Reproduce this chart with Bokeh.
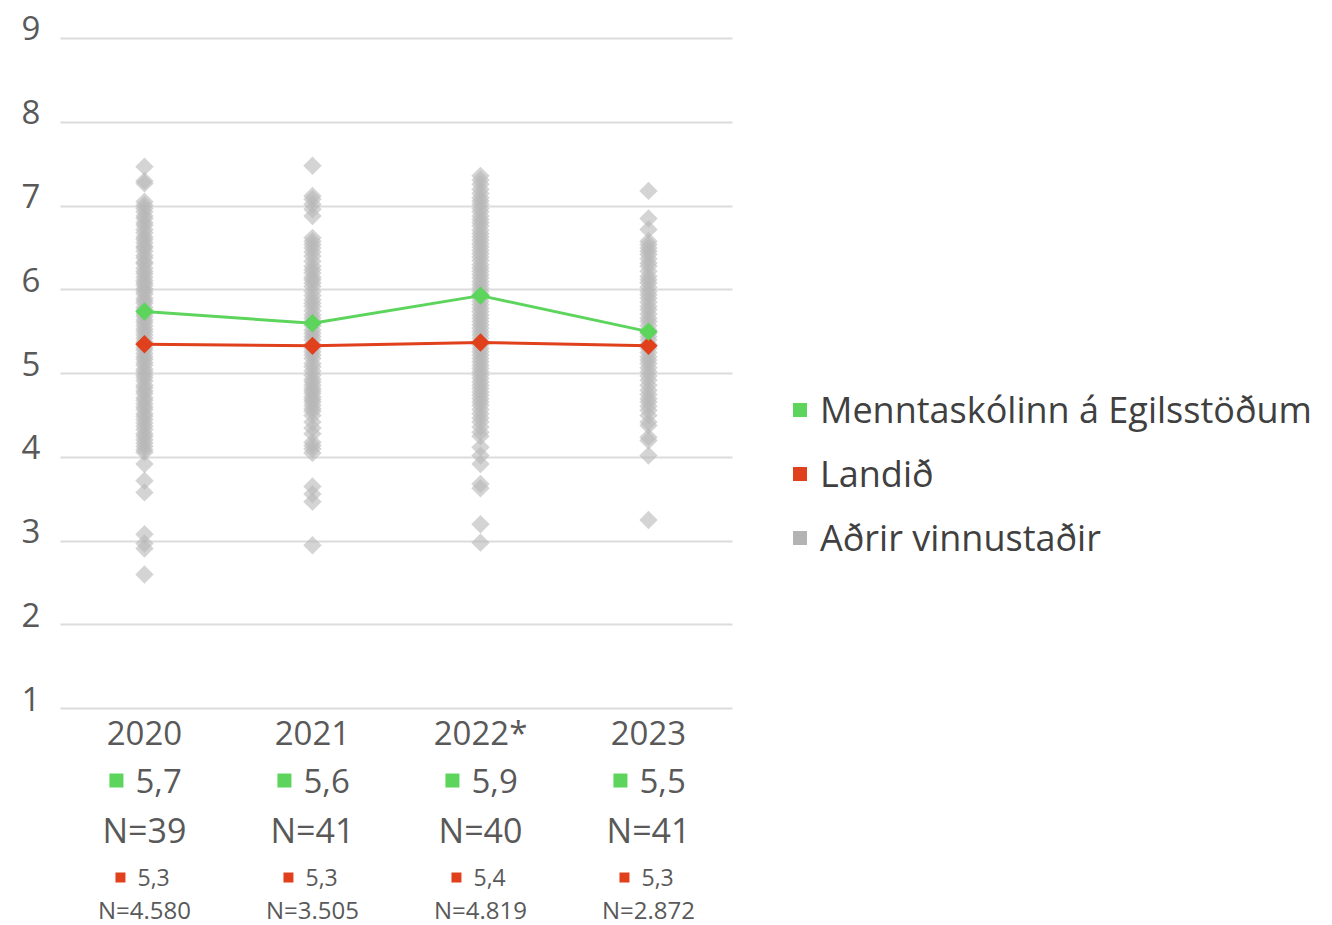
from math import pi
from bokeh.plotting import figure
from bokeh.models import ColumnDataSource, FixedTicker, Range1d, Legend, LegendItem
from bokeh.core.properties import value
from bokeh.transform import dodge
from bokeh.embed import file_html
from bokeh.resources import INLINE

# ---------------- data ----------------
years = ["2020", "2021", "2022*", "2023"]
school = [5.74, 5.60, 5.93, 5.50]
school_labels = ["5,7", "5,6", "5,9", "5,5"]
school_n = ["N=39", "N=41", "N=40", "N=41"]
country = [5.35, 5.33, 5.37, 5.33]
country_labels = ["5,3", "5,3", "5,4", "5,3"]
country_n = ["N=4.580", "N=3.505", "N=4.819", "N=2.872"]

others_2020 = [7.47, 7.30, 7.27, 7.05, 7.01, 6.97, 6.93, 6.88, 6.85, 6.80, 6.77, 6.72,
               6.68, 6.63, 6.60, 6.56, 6.52, 6.50, 6.46, 6.41, 6.38, 6.33, 6.31, 6.26,
               6.22, 6.19, 6.15, 6.11, 6.08, 6.05, 6.01, 5.98, 5.95, 5.90, 5.87, 5.84,
               5.79, 5.76, 5.71, 5.68, 5.64, 5.61, 5.57, 5.53, 5.50, 5.46, 5.42, 5.38,
               5.36, 5.31, 5.28, 5.24, 5.20, 5.17, 5.13, 5.10, 5.05, 5.02, 4.98, 4.95,
               4.91, 4.86, 4.83, 4.79, 4.76, 4.71, 4.68, 4.64, 4.60, 4.57, 4.52, 4.49,
               4.45, 4.41, 4.37, 4.33, 4.28, 4.25, 4.21, 4.17, 4.13, 4.09, 4.06, 3.92,
               3.72, 3.58, 3.08, 2.97, 2.91, 2.60]
others_2021 = [7.48, 7.12, 7.08, 7.02, 6.96, 6.88, 6.62, 6.58, 6.54, 6.50, 6.45, 6.40,
               6.34, 6.28, 6.24, 6.20, 6.15, 6.12, 6.08, 6.04, 5.98, 5.93, 5.88, 5.84,
               5.80, 5.75, 5.70, 5.66, 5.62, 5.57, 5.52, 5.48, 5.44, 5.40, 5.35, 5.30,
               5.26, 5.22, 5.18, 5.12, 5.08, 5.03, 4.98, 4.93, 4.90, 4.86, 4.82, 4.79,
               4.76, 4.72, 4.69, 4.66, 4.62, 4.58, 4.55, 4.50, 4.42, 4.35, 4.28, 4.18,
               4.14, 4.10, 4.05, 3.65, 3.56, 3.47, 2.95]
others_2022 = [7.36, 7.31, 7.26, 7.20, 7.15, 7.10, 7.06, 7.02, 6.97, 6.93, 6.88, 6.84,
               6.80, 6.76, 6.71, 6.67, 6.63, 6.59, 6.55, 6.51, 6.47, 6.43, 6.39, 6.35,
               6.30, 6.26, 6.22, 6.18, 6.14, 6.10, 6.06, 6.02, 5.98, 5.94, 5.90, 5.86,
               5.82, 5.78, 5.74, 5.70, 5.66, 5.62, 5.58, 5.54, 5.50, 5.46, 5.42, 5.38,
               5.34, 5.30, 5.26, 5.22, 5.18, 5.14, 5.10, 5.06, 5.02, 4.98, 4.94, 4.90,
               4.86, 4.82, 4.78, 4.74, 4.70, 4.66, 4.62, 4.57, 4.52, 4.47, 4.42, 4.36,
               4.30, 4.25, 4.12, 4.02, 3.92, 3.68, 3.63, 3.20, 2.98]
others_2023 = [7.18, 6.85, 6.72, 6.58, 6.54, 6.50, 6.46, 6.42, 6.37, 6.32, 6.28, 6.22,
               6.16, 6.12, 6.08, 6.03, 5.98, 5.94, 5.90, 5.85, 5.80, 5.76, 5.71, 5.66,
               5.62, 5.57, 5.52, 5.48, 5.44, 5.40, 5.35, 5.30, 5.25, 5.20, 5.16, 5.12,
               5.07, 5.02, 4.97, 4.92, 4.86, 4.80, 4.75, 4.70, 4.66, 4.61, 4.56, 4.50,
               4.42, 4.38, 4.24, 4.20, 4.02, 3.25]
y_ticks = [1, 2, 3, 4, 5, 6, 7, 8, 9]
y_tick_labels = ["1", "2", "3", "4", "5", "6", "7", "8", "9"]

legend_labels = ["Menntaskólinn á Egilsstöðum", "Landið", "Aðrir vinnustaðir"]

# ---------------- styles ----------------
GREEN = "#5DD55D"
RED = "#E0401C"
GRAY_PT = "#B8B8B8"
GRAY_LEG = "#B3B3B3"
TXT = "#595959"
FONT = "Open Sans"

xs = list(range(len(years)))
src = ColumnDataSource(dict(x=xs, year=years, school=school, school_lbl=school_labels,
                            school_n=school_n, country=country,
                            country_lbl=country_labels, country_n=country_n))

ox, oy = [], []
for i, vals in enumerate([others_2020, others_2021, others_2022, others_2023]):
    ox += [xs[i]] * len(vals)
    oy += vals
others_src = ColumnDataSource(dict(x=ox, y=oy))

x_lo = -0.5  # left edge of the plotting area (half a category before the first)
tick_src = ColumnDataSource(dict(x=[x_lo] * len(y_ticks), y=y_ticks, lbl=y_tick_labels))

p = figure(width=1332, height=925, output_backend="svg", toolbar_location=None,
           x_range=Range1d(-0.857, 7.0714), y_range=Range1d(-1.591, 9.3582),
           min_border_left=0, min_border_right=0, min_border_top=8, min_border_bottom=0)
p.outline_line_color = None
p.xaxis.visible = False
p.yaxis.visible = False
p.xgrid.visible = False

p.ygrid.ticker = FixedTicker(ticks=y_ticks)
p.ygrid.grid_line_color = "#DCDCDC"
p.ygrid.grid_line_width = 2
p.ygrid.cross_bounds = (x_lo, len(years) - 0.5)

# y tick labels (sit slightly above their grid line, as in the original)
p.text(x="x", y="y", text="lbl", source=tick_src, x_offset=-20, y_offset=-10,
       text_align="right", text_baseline="middle", text_font=value(FONT),
       text_font_size="33px", text_color=TXT)

# other workplaces
p.scatter(x="x", y="y", source=others_src, marker="square", angle=pi / 4, size=13,
          fill_color=GRAY_PT, fill_alpha=0.6, line_color=None)

# lines
p.line(x="x", y="country", source=src, line_color=RED, line_width=3)
p.line(x="x", y="school", source=src, line_color=GREEN, line_width=3)
p.scatter(x="x", y="country", source=src, marker="square", angle=pi / 4, size=13,
          fill_color=RED, line_color=None)
p.scatter(x="x", y="school", source=src, marker="square", angle=pi / 4, size=13,
          fill_color=GREEN, line_color=None)

# category labels under the axis
common = dict(text_font=value(FONT), text_color=TXT, text_baseline="middle")
p.text(x="x", y=0.713, text="year", source=src, text_align="center",
       text_font_size="33px", **common)
g_sq = p.scatter(x=dodge("x", -0.167), y=0.14, source=src, marker="square", size=14,
                 fill_color=GREEN, line_color=None)
p.text(x="x", y=0.14, text="school_lbl", source=src, text_align="left", x_offset=-9,
       text_font_size="33px", **common)
p.text(x="x", y=-0.445, text="school_n", source=src, text_align="center",
       text_font_size="34px", **common)
r_sq = p.scatter(x=dodge("x", -0.143), y=-1.018, source=src, marker="square", size=10,
                 fill_color=RED, line_color=None)
p.text(x="x", y=-1.018, text="country_lbl", source=src, text_align="left", x_offset=-7,
       text_font_size="23px", **common)
p.text(x="x", y=-1.40, text="country_n", source=src, text_align="center",
       text_font_size="24px", **common)

# legend: gray entry uses a hidden square-marker renderer of the other-workplaces data
gray_leg = p.scatter(x="x", y="y", source=others_src, marker="square", size=14,
                     fill_color=GRAY_LEG, line_color=None, visible=False)
legend = Legend(items=[LegendItem(label=legend_labels[0], renderers=[g_sq]),
                       LegendItem(label=legend_labels[1], renderers=[r_sq]),
                       LegendItem(label=legend_labels[2], renderers=[gray_leg])],
                location=(782, 363), glyph_width=35, glyph_height=35,
                label_standoff=3, spacing=15, padding=0, margin=0,
                border_line_color=None, background_fill_alpha=0,
                inactive_fill_alpha=0,
                label_text_font=FONT, label_text_font_size="36px",
                label_text_color="#404040")
p.add_layout(legend)

open("out.html", "w").write(file_html(p, INLINE))
